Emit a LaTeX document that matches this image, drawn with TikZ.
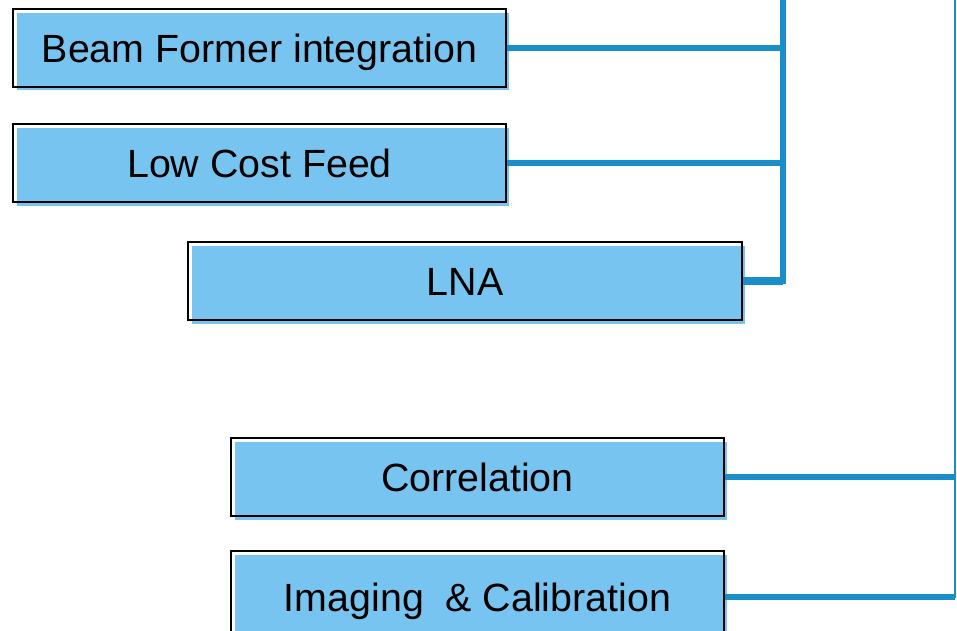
\documentclass[tikz,border=0pt]{standalone}
\usepackage{fontspec}
\setmainfont{Liberation Sans}
\usetikzlibrary{positioning, shadows}
\definecolor{boxblue}{HTML}{78C4F0}
\definecolor{linkblue}{HTML}{1A8EC8}
\tikzset{
  task/.style={draw=black, line width=0.8pt, minimum height=1.56cm, inner sep=0pt,
    text height=0.56cm, text depth=0pt, font=\fontsize{22.4}{27}\selectfont,
    general shadow={fill=boxblue, shadow xshift=0.07cm, shadow yshift=-0.07cm}},
  link/.style={draw=linkblue, line width=3pt},
}
\begin{document}
\begin{tikzpicture}[x=0.02cm, y=-0.02cm]
            \useasboundingbox (0,0) rectangle (957,630);

            \node [task, minimum width=9.86cm] (beam) at (259.5,48) {Beam Former integration};
            \node [task, minimum width=9.86cm] (feed) at (259.5,163) {Low Cost Feed};
            \node [task, minimum width=11.08cm] (lna) at (465,281) {LNA};
            \node [task, minimum width=9.86cm] (corr) at (477.5,477) {Correlation};
            \node [task, minimum width=9.86cm, minimum height=1.84cm] (img) at (477.5,597) {Imaging\ \ \& Calibration};

            \coordinate (front) at (783,-10);
            \coordinate (back) at (955,-10);

            \draw [link] (front) |- (lna.east);
            \draw [link] (beam.east) -- (beam.east -| front);
            \draw [link] (feed.east) -- (feed.east -| front);
            \draw [link, line width=4.2pt] (lna.east) -- (lna.east -| front);

            \draw [link, line width=1.4pt] (back) |- (img.east);
            \draw [link] (corr.east) -- (corr.east -| back);
            \draw [link] (img.east) -- (img.east -| back);
        \end{tikzpicture}
\end{document}
